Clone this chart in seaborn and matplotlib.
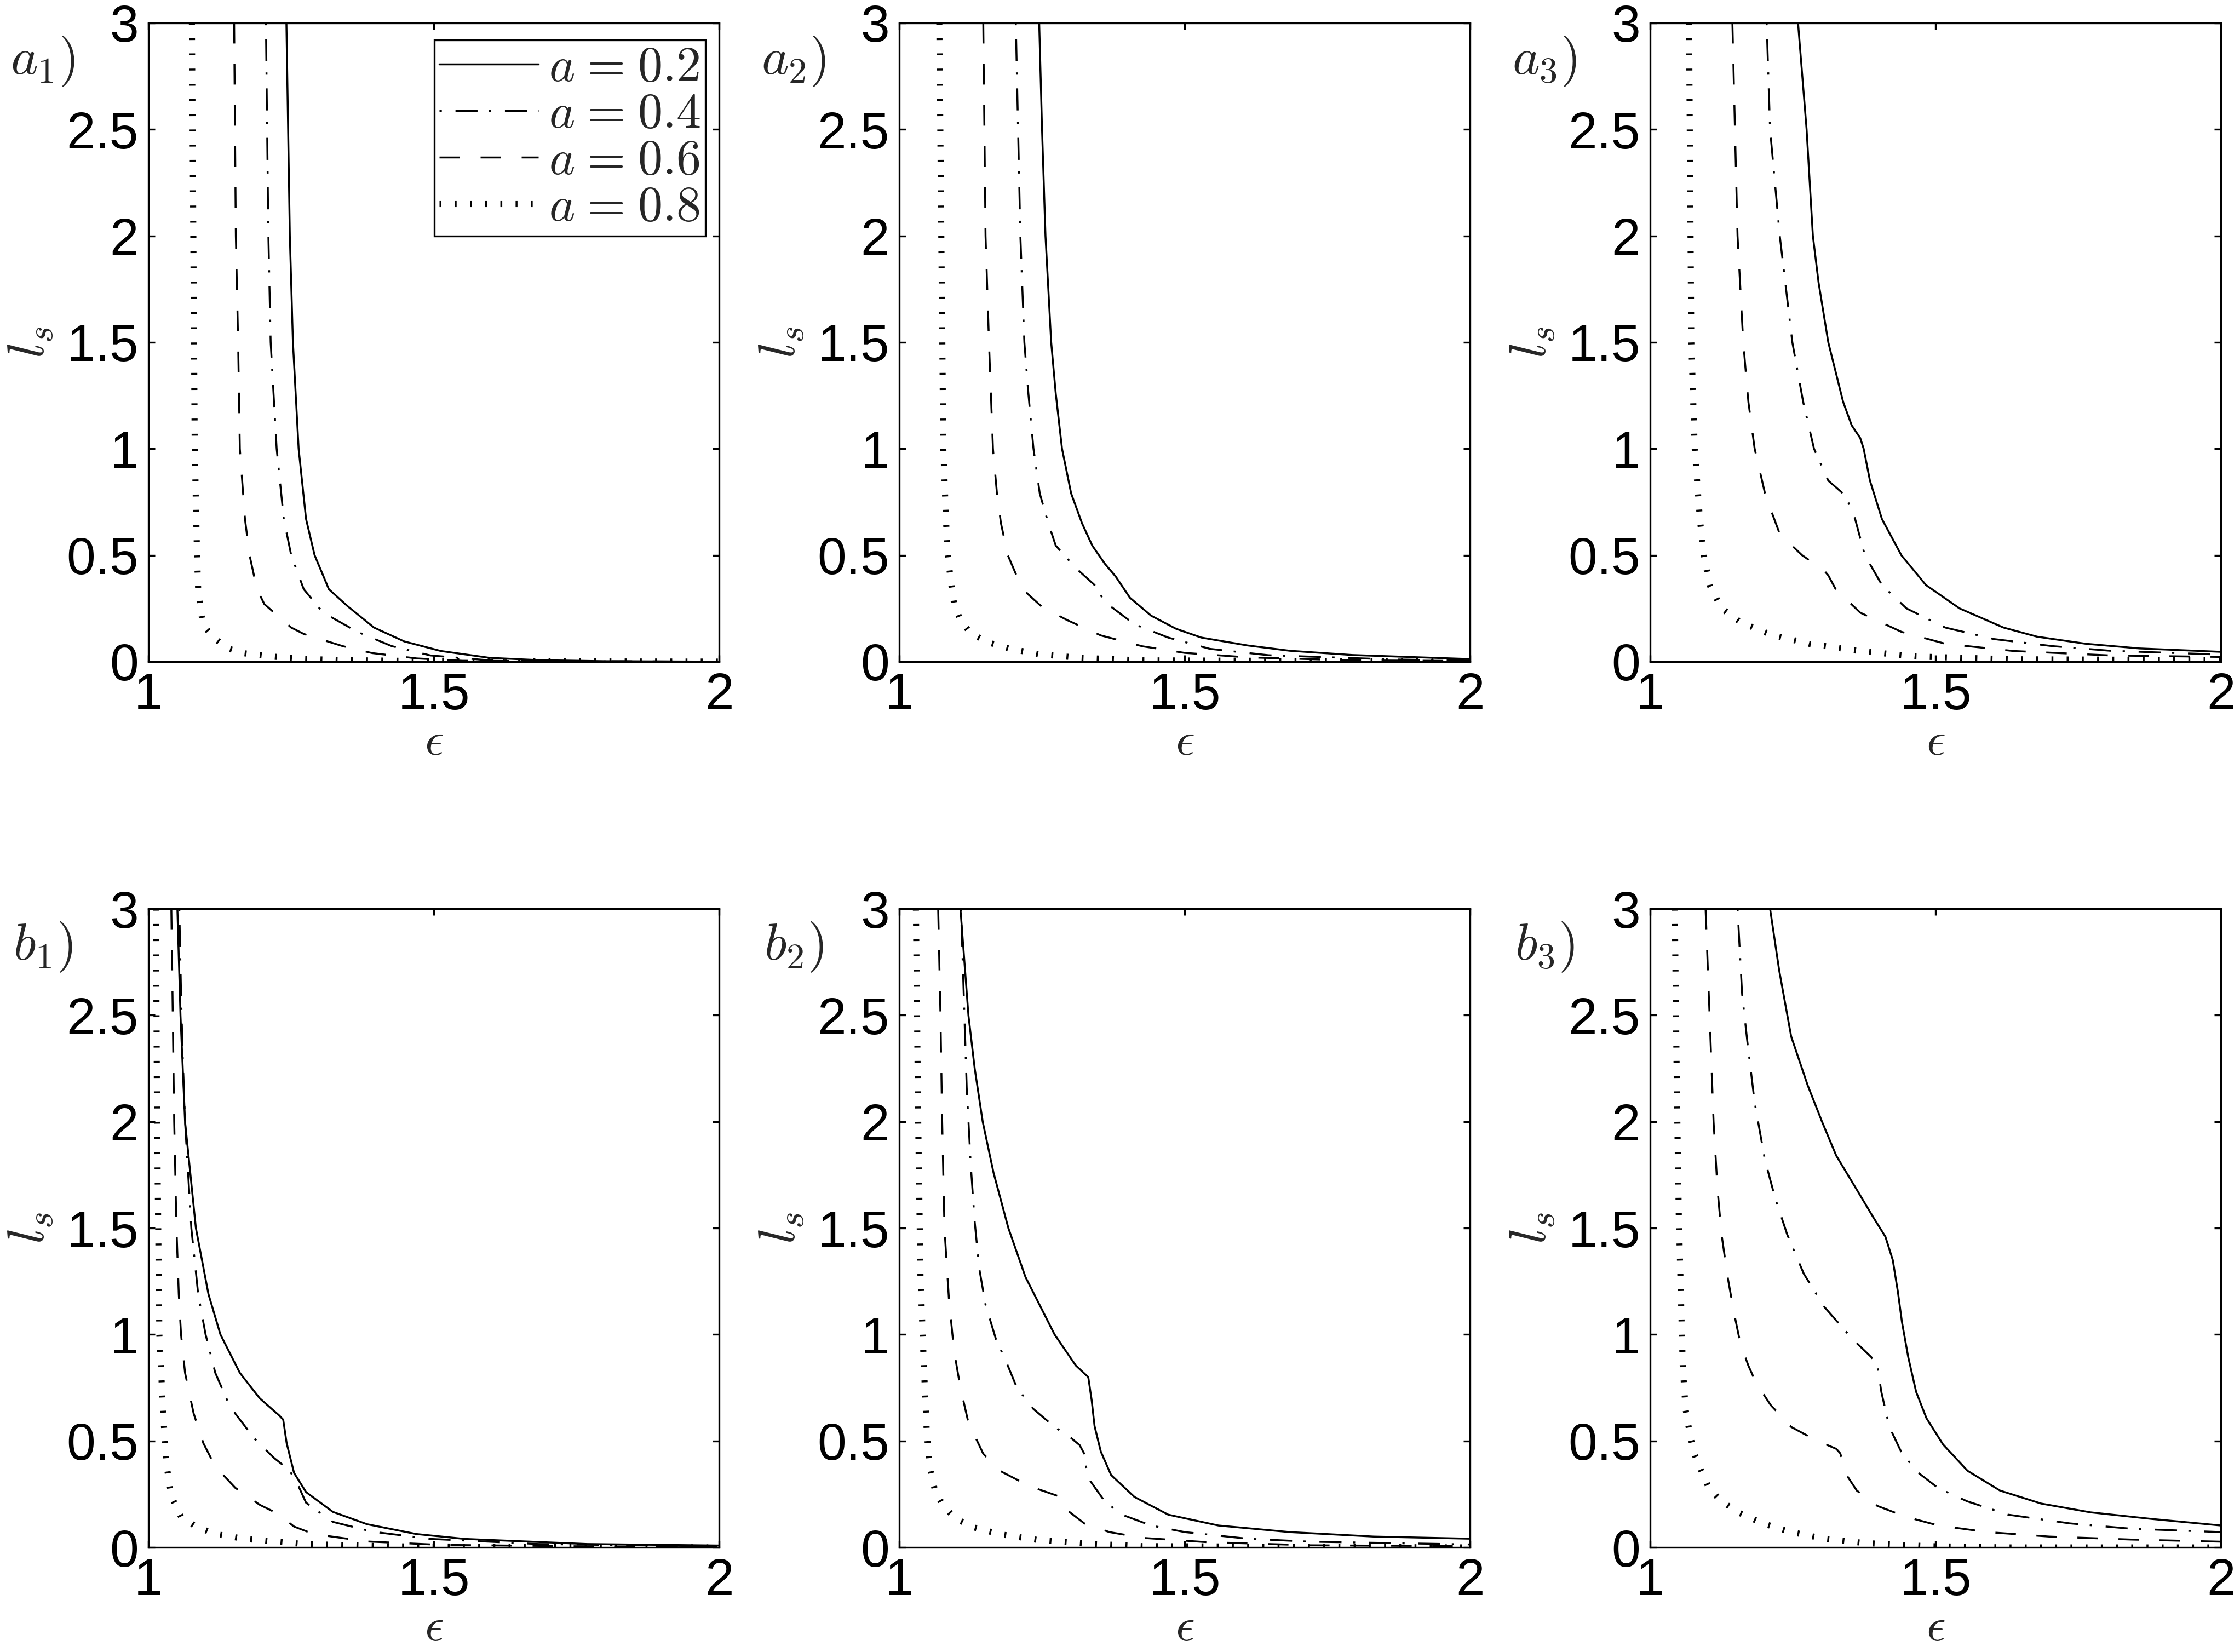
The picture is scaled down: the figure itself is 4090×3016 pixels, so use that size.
import matplotlib
matplotlib.use("Agg")
import matplotlib.pyplot as plt
import pandas as pd
import seaborn as sns

# curve points (eps, l_s), one list per panel and a value
a1_a02 = [(1.2416, 3.0), (1.2476, 2.0), (1.253, 1.5), (1.263, 1.0), (1.276, 0.67), (1.291, 0.5),
          (1.316, 0.34), (1.349, 0.26), (1.395, 0.16), (1.448, 0.095), (1.512, 0.05), (1.597, 0.018),
          (1.683, 0.007), (1.8, 0.002), (2.0, 0.0)]
a1_a04 = [(1.2057, 3.0), (1.21, 2.0), (1.214, 1.5), (1.2245, 1.0), (1.237, 0.67), (1.25, 0.5),
          (1.272, 0.34), (1.306, 0.23), (1.366, 0.14), (1.426, 0.073), (1.494, 0.029), (1.597, 0.006),
          (1.8, 0.001), (2.0, 0.0)]
a1_a06 = [(1.15, 3.0), (1.153, 2.0), (1.157, 1.5), (1.16, 1.0), (1.169, 0.67), (1.177, 0.5),
          (1.19, 0.34), (1.203, 0.27), (1.25, 0.16), (1.272, 0.13), (1.34, 0.073), (1.392, 0.04),
          (1.47, 0.015), (1.55, 0.004), (2.0, 0.0)]
a1_a08 = [(1.076, 3.0), (1.081, 1.0), (1.085, 0.5), (1.087, 0.34), (1.092, 0.23), (1.096, 0.17),
          (1.117, 0.106), (1.139, 0.062), (1.165, 0.04), (1.216, 0.024), (1.27, 0.013), (1.34, 0.007),
          (1.5, 0.002), (2.0, 0.0)]

a2_a02 = [(1.245, 3.0), (1.25, 2.5), (1.256, 2.0), (1.261, 1.75), (1.266, 1.5), (1.274, 1.26),
          (1.285, 1.0), (1.301, 0.79), (1.32, 0.65), (1.338, 0.545), (1.36, 0.46), (1.379, 0.4),
          (1.404, 0.3), (1.441, 0.216), (1.485, 0.154), (1.529, 0.113), (1.61, 0.076), (1.684, 0.051),
          (1.794, 0.031), (2.0, 0.012)]
a2_a04 = [(1.204, 3.0), (1.212, 2.0), (1.219, 1.5), (1.226, 1.26), (1.235, 1.0), (1.246, 0.79),
          (1.261, 0.65), (1.274, 0.545), (1.309, 0.44), (1.342, 0.36), (1.36, 0.28), (1.412, 0.175),
          (1.471, 0.113), (1.544, 0.06), (1.647, 0.03), (1.868, 0.01), (2.0, 0.005)]
a2_a06 = [(1.147, 3.0), (1.151, 2.0), (1.157, 1.5), (1.164, 1.0), (1.171, 0.79), (1.178, 0.65),
          (1.19, 0.5), (1.206, 0.4), (1.224, 0.32), (1.25, 0.257), (1.294, 0.195), (1.353, 0.123),
          (1.426, 0.072), (1.5, 0.041), (1.61, 0.02), (1.794, 0.006), (2.0, 0.003)]
a2_a08 = [(1.07, 3.0), (1.077, 1.0), (1.082, 0.65), (1.085, 0.5), (1.09, 0.38), (1.096, 0.27),
          (1.107, 0.195), (1.125, 0.133), (1.154, 0.092), (1.191, 0.062), (1.243, 0.035),
          (1.316, 0.018), (1.426, 0.006), (2.0, 0.0)]

a3_a02 = [(1.259, 3.0), (1.274, 2.5), (1.285, 2.0), (1.295, 1.78), (1.312, 1.5), (1.338, 1.22),
          (1.353, 1.11), (1.368, 1.05), (1.374, 1.0), (1.385, 0.85), (1.406, 0.67), (1.44, 0.5),
          (1.483, 0.36), (1.542, 0.25), (1.619, 0.16), (1.678, 0.117), (1.763, 0.084), (1.857, 0.062),
          (2.0, 0.046)]
a3_a04 = [(1.204, 3.0), (1.21, 2.5), (1.227, 2.0), (1.249, 1.5), (1.268, 1.22), (1.287, 1.0),
          (1.312, 0.85), (1.342, 0.78), (1.359, 0.67), (1.376, 0.5), (1.406, 0.36), (1.449, 0.25),
          (1.517, 0.16), (1.602, 0.106), (1.704, 0.073), (1.806, 0.051), (2.0, 0.033)]
a3_a06 = [(1.144, 3.0), (1.153, 2.0), (1.163, 1.5), (1.172, 1.22), (1.183, 1.0), (1.202, 0.78),
          (1.227, 0.6), (1.266, 0.5), (1.304, 0.43), (1.312, 0.405), (1.325, 0.34), (1.368, 0.23),
          (1.44, 0.14), (1.517, 0.084), (1.636, 0.05), (1.806, 0.029), (2.0, 0.022)]
a3_a08 = [(1.068, 3.0), (1.072, 1.5), (1.078, 1.0), (1.087, 0.67), (1.094, 0.5), (1.104, 0.36),
          (1.125, 0.25), (1.159, 0.184), (1.21, 0.128), (1.278, 0.084), (1.363, 0.051),
          (1.466, 0.024), (1.636, 0.011), (2.0, 0.007)]

b1_a02 = [(1.0506, 3.0), (1.056, 2.5), (1.064, 2.0), (1.083, 1.5), (1.105, 1.19), (1.126, 1.0),
          (1.16, 0.82), (1.195, 0.7), (1.229, 0.62), (1.236, 0.6), (1.242, 0.49), (1.255, 0.35),
          (1.276, 0.26), (1.323, 0.167), (1.383, 0.109), (1.469, 0.063), (1.554, 0.04),
          (1.769, 0.016), (2.0, 0.009)]
b1_a04 = [(1.054, 3.0), (1.057, 2.6), (1.06, 2.3), (1.064, 2.0), (1.075, 1.5), (1.087, 1.19),
          (1.1, 1.0), (1.117, 0.82), (1.143, 0.66), (1.186, 0.51), (1.22, 0.42), (1.246, 0.365),
          (1.259, 0.31), (1.276, 0.21), (1.323, 0.12), (1.392, 0.074), (1.494, 0.04), (1.683, 0.016),
          (2.0, 0.005)]
b1_a06 = [(1.04, 3.0), (1.045, 2.0), (1.049, 1.5), (1.053, 1.19), (1.057, 1.0), (1.064, 0.82),
          (1.079, 0.63), (1.096, 0.49), (1.117, 0.38), (1.152, 0.28), (1.195, 0.2), (1.22, 0.167),
          (1.233, 0.144), (1.255, 0.098), (1.289, 0.063), (1.383, 0.028), (1.512, 0.012),
          (1.769, 0.005), (2.0, 0.003)]
b1_a08 = [(1.013, 3.0), (1.015, 2.0), (1.019, 1.0), (1.026, 0.61), (1.032, 0.38), (1.04, 0.24),
          (1.057, 0.144), (1.083, 0.098), (1.117, 0.063), (1.169, 0.04), (1.272, 0.016),
          (1.426, 0.005), (2.0, 0.0)]

b2_a02 = [(1.107, 3.0), (1.121, 2.5), (1.132, 2.25), (1.146, 2.0), (1.165, 1.76), (1.191, 1.5),
          (1.221, 1.27), (1.272, 1.0), (1.309, 0.855), (1.331, 0.8), (1.337, 0.69), (1.342, 0.57),
          (1.353, 0.45), (1.371, 0.34), (1.412, 0.237), (1.471, 0.154), (1.559, 0.103),
          (1.684, 0.072), (1.831, 0.051), (2.0, 0.041)]
b2_a04 = [(1.108, 3.0), (1.118, 2.16), (1.125, 1.8), (1.132, 1.53), (1.14, 1.31), (1.151, 1.14),
          (1.169, 0.98), (1.1875, 0.87), (1.206, 0.75), (1.235, 0.65), (1.272, 0.566), (1.301, 0.514),
          (1.316, 0.48), (1.324, 0.44), (1.327, 0.38), (1.335, 0.31), (1.36, 0.216), (1.39, 0.154),
          (1.441, 0.103), (1.5, 0.072), (1.61, 0.041), (1.72, 0.027), (2.0, 0.014)]
b2_a06 = [(1.068, 3.0), (1.072, 2.5), (1.075, 2.0), (1.079, 1.5), (1.087, 1.16), (1.096, 0.92),
          (1.107, 0.75), (1.121, 0.586), (1.147, 0.44), (1.176, 0.36), (1.228, 0.288), (1.272, 0.247),
          (1.283, 0.237), (1.294, 0.175), (1.324, 0.113), (1.368, 0.072), (1.426, 0.045),
          (1.537, 0.025), (1.72, 0.01), (2.0, 0.006)]
b2_a08 = [(1.029, 3.0), (1.033, 2.0), (1.037, 1.27), (1.043, 0.85), (1.048, 0.545), (1.053, 0.38),
          (1.0625, 0.267), (1.077, 0.195), (1.099, 0.134), (1.132, 0.093), (1.176, 0.062),
          (1.243, 0.035), (1.324, 0.0185), (1.426, 0.006), (2.0, 0.0)]

b3_a02 = [(1.21, 3.0), (1.226, 2.71), (1.247, 2.4), (1.276, 2.17), (1.301, 2.0), (1.326, 1.84),
          (1.362, 1.68), (1.391, 1.55), (1.412, 1.46), (1.425, 1.35), (1.434, 1.2), (1.441, 1.06),
          (1.452, 0.895), (1.466, 0.73), (1.484, 0.607), (1.513, 0.484), (1.556, 0.36), (1.613, 0.267),
          (1.685, 0.206), (1.771, 0.165), (1.878, 0.134), (2.0, 0.103)]
b3_a04 = [(1.153, 3.0), (1.161, 2.6), (1.17, 2.38), (1.183, 2.09), (1.201, 1.82), (1.219, 1.64),
          (1.24, 1.47), (1.269, 1.286), (1.305, 1.13), (1.355, 0.977), (1.387, 0.895), (1.398, 0.854),
          (1.405, 0.73), (1.419, 0.566), (1.441, 0.442), (1.47, 0.35), (1.505, 0.278), (1.556, 0.216),
          (1.627, 0.154), (1.735, 0.113), (1.842, 0.088), (2.0, 0.072)]
b3_a06 = [(1.097, 3.0), (1.104, 2.5), (1.111, 2.0), (1.118, 1.68), (1.125, 1.47), (1.136, 1.265),
          (1.147, 1.1), (1.158, 0.957), (1.172, 0.854), (1.186, 0.77), (1.211, 0.669), (1.247, 0.566),
          (1.29, 0.504), (1.326, 0.463), (1.333, 0.442), (1.344, 0.34), (1.362, 0.267), (1.398, 0.195),
          (1.448, 0.144), (1.505, 0.103), (1.591, 0.072), (1.699, 0.051), (1.842, 0.037), (2.0, 0.027)]
b3_a08 = [(1.043, 3.0), (1.047, 2.09), (1.05, 1.57), (1.054, 1.16), (1.057, 0.854), (1.062, 0.648),
          (1.07, 0.525), (1.077, 0.442), (1.086, 0.38), (1.103, 0.278), (1.125, 0.216), (1.154, 0.165),
          (1.197, 0.113), (1.247, 0.072), (1.305, 0.041), (1.376, 0.0206), (1.484, 0.006),
          (1.627, 0.0), (2.0, 0.0)]

a_values = ["0.2", "0.4", "0.6", "0.8"]
panel_names = ["a_1", "a_2", "a_3", "b_1", "b_2", "b_3"]
panel_curves = [
    [a1_a02, a1_a04, a1_a06, a1_a08],
    [a2_a02, a2_a04, a2_a06, a2_a08],
    [a3_a02, a3_a04, a3_a06, a3_a08],
    [b1_a02, b1_a04, b1_a06, b1_a08],
    [b2_a02, b2_a04, b2_a06, b2_a08],
    [b3_a02, b3_a04, b3_a06, b3_a08],
]
x_ticks = [1, 1.5, 2]
x_ticklabels = ["1", "1.5", "2"]
y_ticks = [0, 0.5, 1, 1.5, 2, 2.5, 3]
y_ticklabels = ["0", "0.5", "1", "1.5", "2", "2.5", "3"]

sns.set_theme(style="white")
plt.rcParams["font.family"] = ["Liberation Sans", "DejaVu Sans"]
plt.rcParams["mathtext.fontset"] = "cm"
plt.rcParams["lines.scale_dashes"] = False
plt.rcParams["axes.edgecolor"] = "black"
plt.rcParams["axes.linewidth"] = 2.4

line_styles = [
    dict(linestyle="-", linewidth=2.5),
    dict(linestyle=(0, (3, 18, 29, 15)), linewidth=2.5),
    dict(linestyle=(0, (27, 27)), linewidth=2.5),
    dict(linestyle=(0, (2.5, 17.5)), linewidth=8),
]

fig = plt.figure(figsize=(40.9, 30.16), dpi=100)
lefts = [0.0663, 0.4015, 0.7367]
bottoms = [0.5995, 0.0633]
w, h = 0.2548, 0.3866
FS = 68

for i, (name, curves) in enumerate(zip(panel_names, panel_curves)):
    ax = fig.add_axes([lefts[i % 3], bottoms[i // 3], w, h])
    for pts, aval, st in zip(curves, a_values, line_styles):
        df = pd.DataFrame(pts, columns=["eps", "ls"])
        sns.lineplot(data=df, x="eps", y="ls", ax=ax, sort=False, estimator=None,
                     color="black", legend=False,
                     label=r"$a\hspace{0.08}=\hspace{0.08}" + aval + r"\hspace{0.25}$", **st)
    ax.set_xlim(1, 2)
    ax.set_ylim(0, 3)
    ax.set_xticks(x_ticks)
    ax.set_xticklabels(x_ticklabels)
    ax.set_yticks(y_ticks)
    ax.set_yticklabels(y_ticklabels)
    ax.tick_params(direction="in", length=8.6, width=2.4, top=True, right=True,
                   bottom=True, left=True, labelsize=FS, pad=13, colors="black")
    for sp in ax.spines.values():
        sp.set_visible(True)
        sp.set_color("black")
        sp.set_linewidth(2.4)
    ax.set_xlabel(r"$\epsilon$", fontsize=62)
    ax.xaxis.set_label_coords(0.5, -0.127)
    ax.xaxis.label.set_va("center")
    ax.set_ylabel(r"$l_s$", fontsize=FS)
    ax.yaxis.set_label_coords(-0.206, 0.5)
    ax.yaxis.label.set_va("center")
    ax.text(-0.185, 0.94, f"${name})$", transform=ax.transAxes, ha="center", va="center",
            fontsize=FS)
    if i == 0:
        leg = ax.legend(loc="upper right", bbox_to_anchor=(0.976, 0.973), borderaxespad=0,
                        fontsize=65, handlelength=2.0, handletextpad=0.22, labelspacing=0.0,
                        borderpad=0.1, frameon=True, fancybox=False, edgecolor="black",
                        framealpha=1)
        leg.get_frame().set_linewidth(2.4)
    elif ax.get_legend() is not None:
        ax.get_legend().remove()

fig.savefig("out.png", dpi=100, facecolor="white")
